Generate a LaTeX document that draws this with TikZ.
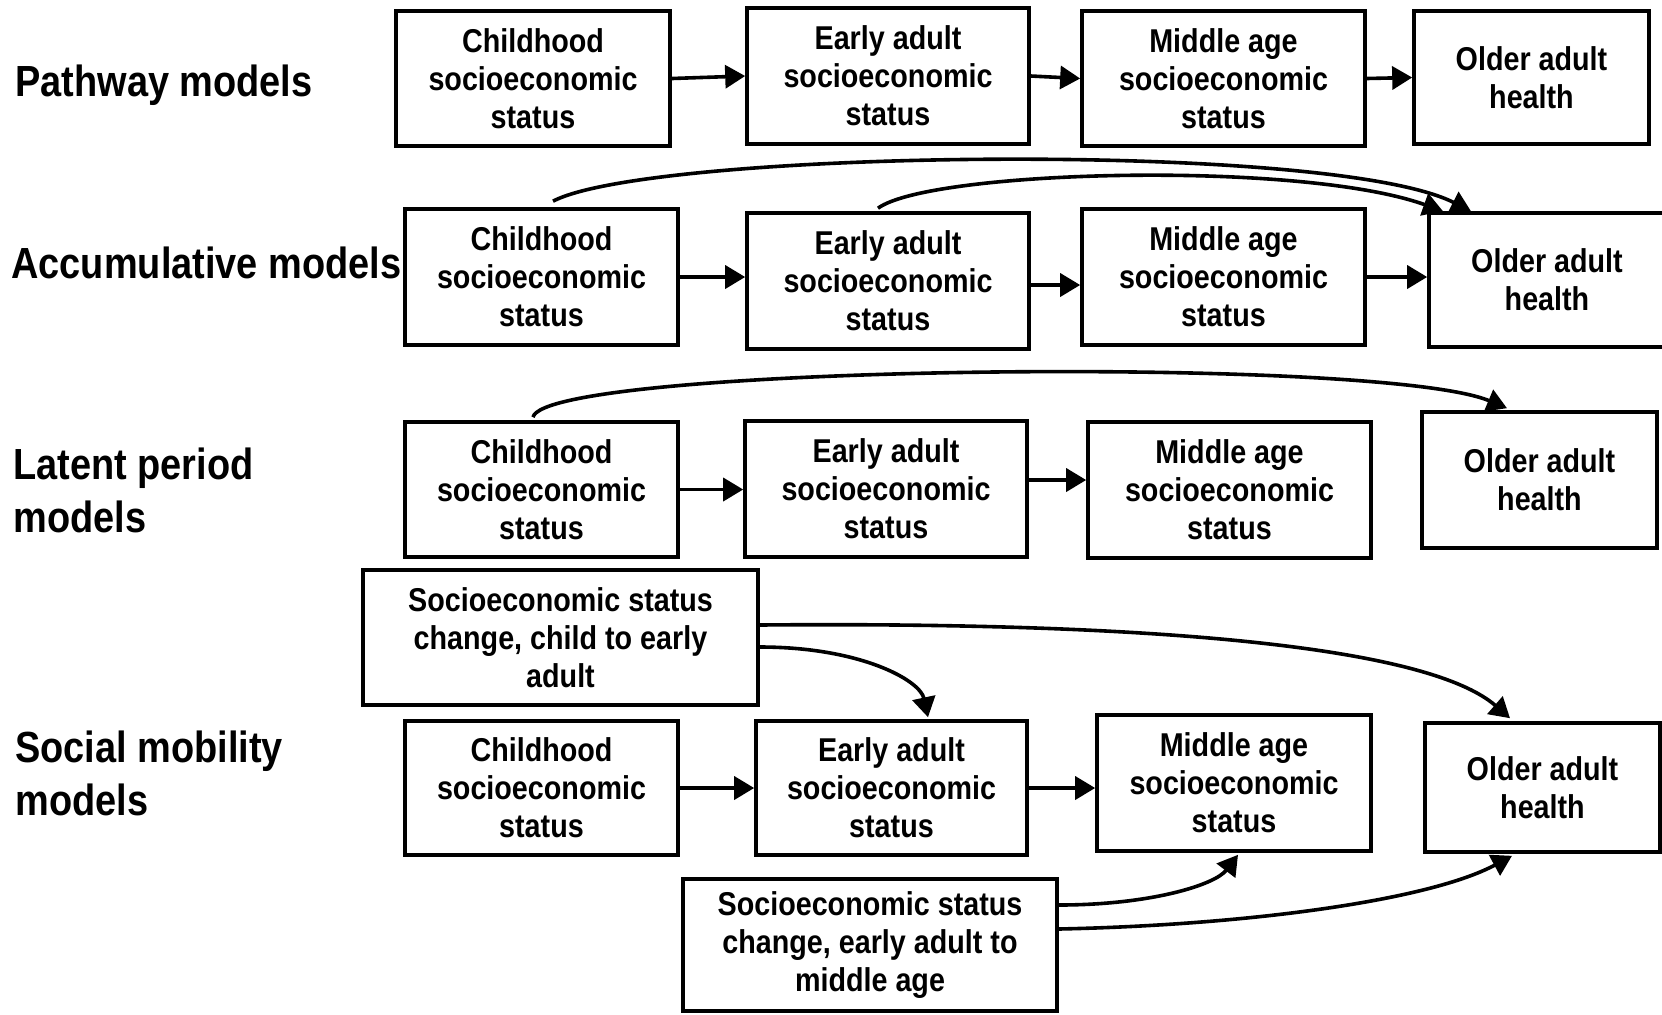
\documentclass[tikz,border=0pt]{standalone}
\usepackage{fontspec}
\setmainfont[FakeStretch=0.87]{Liberation Sans}
\usetikzlibrary{arrows.meta}
\begin{document}
\begin{tikzpicture}[x=0.5pt,y=-0.5pt,
  box/.style={draw,line width=1.8pt,inner sep=0pt,align=center,font=\fontsize{16.5}{19}\selectfont\bfseries},
  lab/.style={anchor=west,inner sep=0pt,align=left,font=\fontsize{21.8}{26.5}\selectfont\bfseries},
  arr/.style={line width=1.8pt,-{Triangle[length=10pt,width=11.5pt]}}]
\clip (0,0) rectangle (1662,1014);
\fill[white] (0,0) rectangle (1662,1014);

% labels
\node[lab] (Lp) at (15,85) {Pathway models};
\node[lab] (La) at (11,263) {Accumulative models};
\node[lab] (Ll) at (13,490) {Latent period\\models};
\node[lab] (Ls) at (15,773) {Social mobility\\models};

% row 1
\node[box,minimum width=137pt,minimum height=67.5pt] (C1) at (533,78.5) {Childhood\\socioeconomic\\status};
\node[box,minimum width=141pt,minimum height=68pt] (E1) at (888,76) {Early adult\\socioeconomic\\status};
\node[box,minimum width=141.5pt,minimum height=67.5pt] (M1) at (1223.5,78.5) {Middle age\\socioeconomic\\status};
\node[box,minimum width=117.5pt,minimum height=66.5pt] (O1) at (1531.5,77.5) {Older adult\\health};

% row 2
\node[box,minimum width=136.5pt,minimum height=68pt] (C2) at (541.5,277) {Childhood\\socioeconomic\\status};
\node[box,minimum width=141pt,minimum height=68pt] (E2) at (888,281) {Early adult\\socioeconomic\\status};
\node[box,minimum width=141.5pt,minimum height=68pt] (M2) at (1223.5,277) {Middle age\\socioeconomic\\status};
\node[box,minimum width=118pt,minimum height=67pt] (O2) at (1547,280) {Older adult\\health};

% row 3
\node[box,minimum width=136.5pt,minimum height=67.5pt] (C3) at (541.5,489.5) {Childhood\\socioeconomic\\status};
\node[box,minimum width=141pt,minimum height=68pt] (E3) at (886,489) {Early adult\\socioeconomic\\status};
\node[box,minimum width=141.5pt,minimum height=68pt] (M3) at (1229.5,490) {Middle age\\socioeconomic\\status};
\node[box,minimum width=117.5pt,minimum height=68pt] (O3) at (1539.5,480) {Older adult\\health};

% row 4
\node[box,minimum width=197.5pt,minimum height=67.5pt] (S1) at (560.5,637.5) {Socioeconomic status\\change, child to early\\adult};
\node[box,minimum width=136.5pt,minimum height=67pt] (C4) at (541.5,788) {Childhood\\socioeconomic\\status};
\node[box,minimum width=135.5pt,minimum height=67pt] (E4) at (891.5,788) {Early adult\\socioeconomic\\status};
\node[box,minimum width=137pt,minimum height=68pt] (M4) at (1234,783) {Middle age\\socioeconomic\\status};
\node[box,minimum width=117.5pt,minimum height=64.5pt] (O4) at (1542.5,787.5) {Older adult\\health};
\node[box,minimum width=187pt,minimum height=66pt] (S2) at (870,945) {Socioeconomic status\\change, early adult to\\middle age};

% straight arrows
\draw[arr] (C1.east) -- (E1.west);
\draw[arr] (E1.east) -- (M1.west);
\draw[arr] (M1.east) -- (O1.west);

\draw[arr] (C2.east) -- (C2.east -| E2.west);
\draw[arr] ([yshift=-2pt]E2.east) -- ([yshift=-2pt]E2.east -| M2.west);
\draw[arr] (M2.east) -- (M2.east -| O2.west);

\draw[arr] (C3.east) -- (C3.east -| E3.west);
\draw[arr] ([yshift=4.5pt]E3.east) -- ([yshift=4.5pt]E3.east -| M3.west);

\draw[arr] (C4.east) -- (C4.east -| E4.west);
\draw[arr] (E4.east) -- (E4.east -| M4.west);

% curved arrows
\draw[arr] ([xshift=5.75pt,yshift=3pt]C2.north) .. controls (650,150) and (1330,140) .. ([xshift=-38pt]O2.north);
\draw[arr] ([xshift=-5pt,yshift=1.5pt]E2.north) .. controls (930,170) and (1300,160) .. ([xshift=-52pt]O2.north);
\draw[arr] ([xshift=-4.25pt,yshift=1.5pt]C3.north) .. controls (545,365) and (1380,355) .. ([xshift=-16.25pt,yshift=1pt]O3.north);
\draw[arr] ([yshift=6.25pt]S1.east) .. controls (1100,622) and (1420,640) .. ([xshift=-16.25pt,yshift=1.5pt]O4.north);
\draw[arr] ([yshift=-4.75pt]S1.east) .. controls (860,647) and (920,680) .. ([xshift=18.25pt,yshift=1pt]E4.north);
\draw[arr] ([yshift=20pt]S2.east) .. controls (1150,905) and (1215,885) .. ([xshift=2pt,yshift=-1pt]M4.south);
\draw[arr] ([yshift=8pt]S2.east) .. controls (1250,925) and (1430,900) .. ([xshift=-15.25pt,yshift=-1pt]O4.south);
\end{tikzpicture}
\end{document}
